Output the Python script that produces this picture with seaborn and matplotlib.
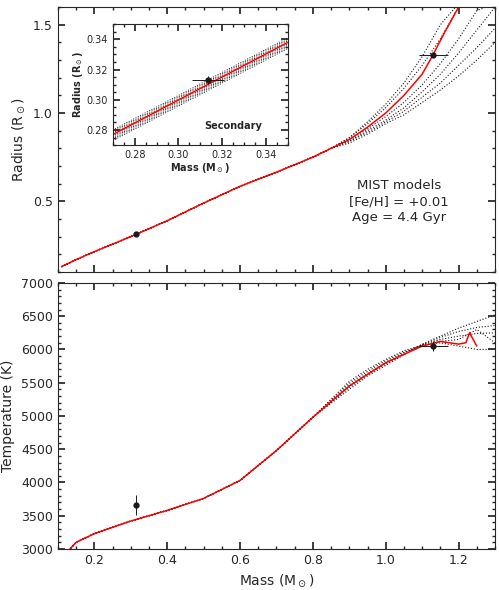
import numpy as np
import pandas as pd
import matplotlib.pyplot as plt
import seaborn as sns
from matplotlib.ticker import AutoMinorLocator

sns.set_theme(style="ticks")
plt.rcParams['font.family'] = ['DejaVu Sans']

# MIST best-fit track (red)
mass = [0.11, 0.15, 0.2, 0.3, 0.4, 0.5, 0.6, 0.7, 0.8, 0.85, 0.9, 0.95, 1.0, 1.05, 1.1, 1.13, 1.16, 1.2]
radius = [0.13, 0.17, 0.215, 0.30, 0.39, 0.49, 0.585, 0.665, 0.75, 0.80, 0.85, 0.92, 1.0, 1.1, 1.22, 1.33, 1.45, 1.60]
tmass = [0.13, 0.15, 0.2, 0.3, 0.4, 0.5, 0.6, 0.7, 0.8, 0.9, 1.0, 1.1, 1.15, 1.2, 1.22, 1.23, 1.25]
teff = [2980, 3100, 3230, 3420, 3580, 3760, 4030, 4480, 4980, 5450, 5800, 6050, 6120, 6080, 6100, 6250, 6050]

# dotted alternative tracks (high-mass end differs)
dot_mass = [0.9, 0.95, 1.0, 1.05, 1.1, 1.15, 1.2, 1.25, 1.3]
dot_radius = [
    [0.86, 0.95, 1.05, 1.17, 1.32, 1.50, 1.62, 1.62, 1.62],
    [0.86, 0.94, 1.03, 1.14, 1.27, 1.42, 1.60, 1.62, 1.62],
    [0.85, 0.91, 0.98, 1.06, 1.16, 1.28, 1.42, 1.58, 1.62],
    [0.84, 0.90, 0.96, 1.03, 1.12, 1.22, 1.34, 1.47, 1.60],
    [0.84, 0.89, 0.95, 1.01, 1.09, 1.17, 1.27, 1.37, 1.48],
    [0.83, 0.88, 0.94, 0.99, 1.06, 1.13, 1.21, 1.30, 1.40],
]
dot_teff = [
    [5400, 5600, 5760, 5920, 6080, 6200, 6320, 6420, 6520],
    [5430, 5620, 5780, 5930, 6070, 6180, 6270, 6330, 6360],
    [5460, 5640, 5800, 5950, 6070, 6150, 6200, 6240, 6250],
    [5490, 5670, 5830, 5960, 6060, 6120, 6150, 6300, 6100],
    [5520, 5700, 5850, 5980, 6060, 6100, 6050, 6000, 6000],
]

# inset tracks
in_mass = [0.27, 0.35]
in_red = [0.277, 0.338]
in_offsets = [0.003, 0.002, 0.001, -0.001, -0.002, -0.003, -0.004]

# observations
m_obs = [0.3135, 1.13]
m_err = [0.0075, 0.04]
r_obs = [0.313, 1.33]
r_err = [0.0025, 0.01]
t_obs = [3660, 6050]
t_err = [150, 80]

fig = plt.figure(figsize=(4.99, 5.9), dpi=100)
ax1 = fig.add_axes([0.116, 0.539, 0.876, 0.449])
ax2 = fig.add_axes([0.116, 0.0695, 0.876, 0.451])
axin = fig.add_axes([0.226, 0.754, 0.351, 0.205])


def style(ax, fs=9):
    ax.xaxis.set_minor_locator(AutoMinorLocator())
    ax.yaxis.set_minor_locator(AutoMinorLocator())
    ax.tick_params(which='both', direction='in', top=True, right=True, labelsize=fs)
    ax.tick_params(which='major', length=5)
    ax.tick_params(which='minor', length=2.5)
    for s in ax.spines.values():
        s.set_linewidth(0.8)


# top panel
base = pd.DataFrame({'m': mass, 'r': radius})
for dr in dot_radius:
    m_all = [x for x in mass if x < 0.9] + dot_mass
    r_all = [y for x, y in zip(mass, radius) if x < 0.9] + dr
    sns.lineplot(x=m_all, y=r_all, ax=ax1, color='k', ls=':', lw=0.8, sort=False)
sns.lineplot(data=base, x='m', y='r', ax=ax1, color='red', lw=1.1)
ax1.errorbar(m_obs, r_obs, xerr=[0, m_err[1]], yerr=[0, r_err[1]], fmt='o', color='k', ms=3.5,
             elinewidth=0.7, capsize=0)
ax1.set_xlim(0.1, 1.3)
ax1.set_ylim(0.1, 1.6)
ax1.set_yticks([0.5, 1.0, 1.5])
ax1.yaxis.set_minor_locator(AutoMinorLocator(5))
ax1.set_xticklabels([])
ax1.set_xlabel('')
ax1.set_ylabel(r'Radius (R$_\odot$)', fontsize=10)
ax1.text(0.78, 0.35, 'MIST models\n[Fe/H] = +0.01\nAge = 4.4 Gyr', transform=ax1.transAxes,
         ha='center', va='top', fontsize=9.5, linespacing=1.3)
style(ax1)
ax1.yaxis.set_minor_locator(AutoMinorLocator(5))

# inset
for off in in_offsets:
    sns.lineplot(x=in_mass, y=[v + off for v in in_red], ax=axin, color='k', ls=':', lw=0.7)
sns.lineplot(x=in_mass, y=in_red, ax=axin, color='red', lw=1.1)
axin.errorbar([m_obs[0]], [r_obs[0]], xerr=[m_err[0]], yerr=[r_err[0]], fmt='o', color='k', ms=3.5,
              elinewidth=0.7, capsize=0)
axin.set_xlim(0.27, 0.35)
axin.set_ylim(0.27, 0.35)
axin.set_xticks([0.28, 0.30, 0.32, 0.34])
axin.set_yticks([0.28, 0.30, 0.32, 0.34])
axin.set_xlabel(r'Mass (M$_\odot$)', fontsize=7, fontweight='bold', labelpad=1)
axin.set_ylabel(r'Radius (R$_\odot$)', fontsize=7, fontweight='bold', labelpad=1)
axin.text(0.312, 0.281, 'Secondary', fontsize=7, fontweight='bold')
style(axin, fs=7)

# bottom panel
for dt in dot_teff:
    m_all = [x for x in tmass if x < 0.9] + dot_mass
    t_all = [y for x, y in zip(tmass, teff) if x < 0.9] + dt
    sns.lineplot(x=m_all, y=t_all, ax=ax2, color='k', ls=':', lw=0.8, sort=False)
sns.lineplot(x=tmass, y=teff, ax=ax2, color='red', lw=1.1, sort=False)
ax2.errorbar(m_obs, t_obs, xerr=[0, m_err[1]], yerr=t_err, fmt='o', color='k', ms=3.5, elinewidth=0.7, capsize=0)
ax2.set_xlim(0.1, 1.3)
ax2.set_ylim(3000, 7000)
ax2.set_yticks(np.arange(3000, 7001, 500))
ax2.set_xlabel(r'Mass (M$_\odot$)', fontsize=10)
ax2.set_ylabel('Temperature (K)', fontsize=10)
style(ax2)

fig.savefig('out.png', dpi=100)
